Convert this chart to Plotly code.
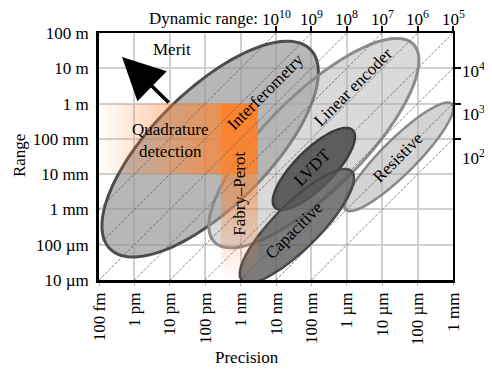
import numpy as np
import plotly.graph_objects as go

# ---------------- data ----------------
PREC_TICK_EXP = list(range(-13, -2))
PREC_TICK_LABELS = ["100 fm", "1 pm", "10 pm", "100 pm", "1 nm", "10 nm",
                    "100 nm", "1 µm", "10 µm", "100 µm", "1 mm"]
RANGE_TICK_EXP = [2, 1, 0, -1, -2, -3, -4, -5]
RANGE_TICK_LABELS = ["100 m", "10 m", "1 m", "100 mm", "10 mm", "1 mm",
                     "100 µm", "10 µm"]
DR_TOP_EXP = [-8, -7, -6, -5, -4, -3]
DR_TOP_LABELS = ["10<sup>10</sup>", "10<sup>9</sup>", "10<sup>8</sup>",
                 "10<sup>7</sup>", "10<sup>6</sup>", "10<sup>5</sup>"]
RIGHT_TICK_EXP = [1, 0, -1]
RIGHT_LABEL_POS = [0.95, -0.27, -1.51]
RIGHT_LABELS = ["10<sup>4</sup>", "10<sup>3</sup>", "10<sup>2</sup>"]
DIAG_EXP = list(range(2, 11))

TECH_NAMES = ["Interferometry", "Linear encoder", "Resistive", "LVDT", "Capacitive"]
TECH_CENTER_U = [-9.86, -6.93, -4.53, -6.93, -7.41]
TECH_CENTER_V = [-1.29, -1.12, -1.51, -1.85, -3.47]
TECH_MAJOR = [4.00, 3.97, 2.12, 1.55, 2.19]
TECH_MINOR = [1.64, 1.36, 0.49, 0.54, 0.64]
TECH_FILL = ["rgba(149,149,149,0.68)", "rgba(180,180,180,0.5)", "rgba(170,170,170,0.5)",
             "rgba(70,70,70,0.85)", "rgba(90,90,90,0.8)"]
TECH_LINE = ["#4d4d4d", "#8c8c8c", "#888888", "#3c3c3c", "#4a4a4a"]
TECH_LINE_W = [3, 3, 2.5, 2.5, 2.5]
LABEL_U = [-8.28, -5.80, -4.55, -6.98, -7.49]
LABEL_V = [0.33, 0.47, -1.54, -1.80, -3.61]

# orange technique regions (log10 of metres)
QUAD_U = [-13.0, -8.5]
QUAD_V = [-2.0, 0.0]
FP_U = [-9.55, -8.5]
FP_V = [-5.0, 0.0]

FONT = "Liberation Serif"
FS = 17
BODY = 8  # default page margin of the browser

fig = go.Figure()

# ---------------- ellipses (shapes between grid and traces) ----------------
shapes = []
t = np.linspace(0, 2 * np.pi, 121)
for cu, cv, a, b, fc, lc, lw in zip(TECH_CENTER_U, TECH_CENTER_V, TECH_MAJOR, TECH_MINOR,
                                     TECH_FILL, TECH_LINE, TECH_LINE_W):
    du = (a * np.cos(t) - b * np.sin(t)) / np.sqrt(2)
    dv = (a * np.cos(t) + b * np.sin(t)) / np.sqrt(2)
    pts = [f"{cu + x:.4f},{cv + y:.4f}" for x, y in zip(du, dv)]
    path = "M " + " L ".join(pts) + " Z"
    shapes.append(dict(type="path", path=path, xref="x", yref="y", layer="between",
                       fillcolor=fc, line=dict(color=lc, width=lw)))

# ---------------- orange gradient regions ----------------
step = 0.05
uc = np.arange(QUAD_U[0] + step / 2, QUAD_U[1], step)
vc = np.arange(FP_V[0] + step / 2, FP_V[1], step)
U, V = np.meshgrid(uc, vc)
in_q = (U >= QUAD_U[0]) & (U <= QUAD_U[1]) & (V >= QUAD_V[0]) & (V <= QUAD_V[1])
in_f = (U >= FP_U[0]) & (U <= FP_U[1]) & (V >= FP_V[0]) & (V <= FP_V[1])
ah = np.where(in_q, 0.7 * np.clip((U - QUAD_U[0]) / (FP_U[0] - QUAD_U[0]), 0, 1), 0.0)
av = np.where(in_f, 0.9 * (V - FP_V[0]) / (FP_V[1] - FP_V[0]), 0.0)
z = 1 - (1 - ah) * (1 - av)
z = np.where(in_q | in_f, z, np.nan)
fig.add_trace(go.Heatmap(x=uc, y=vc, z=z, zmin=0, zmax=1, showscale=False,
                         colorscale=[[0, "rgba(255,127,39,0)"], [1, "rgba(255,127,39,1)"]],
                         hoverinfo="skip"))

# ---------------- constant dynamic-range diagonals ----------------
for k in DIAG_EXP:
    u0 = max(-13, -5 - k)
    u1 = min(-3, 2 - k)
    fig.add_trace(go.Scatter(x=[u0, u1], y=[u0 + k, u1 + k], mode="lines",
                             line=dict(color="#555555", width=0.7, dash="3px,1.5px"),
                             hoverinfo="skip", showlegend=False))

# dummy trace for top / right axes
fig.add_trace(go.Scatter(x=[-13, -3], y=[-5, 2], xaxis="x2", yaxis="y2", mode="markers",
                         marker=dict(opacity=0), hoverinfo="skip", showlegend=False))

# ---------------- annotations ----------------
def txt(**kw):
    d = dict(showarrow=False, xanchor="center", yanchor="middle",
             font=dict(family=FONT, size=FS, color="black"))
    d.update(kw)
    return d

ann = []
for name, lu, lv in zip(TECH_NAMES, LABEL_U, LABEL_V):
    ann.append(txt(x=lu, y=lv, xref="x", yref="y", text=name, textangle=-45))
ann.append(txt(x=-10.99, y=-1.06, xref="x", yref="y", text="Quadrature<br>detection"))
ann.append(txt(x=-9.02, y=-2.56, xref="x", yref="y", text="Fabry–Perot", textangle=-90))
ann.append(txt(x=-10.94, y=1.52, xref="x", yref="y", text="Merit"))
ann.append(dict(x=-12.35, y=1.32, xref="x", yref="y", ax=-10.99, ay=-0.01,
                axref="x", ayref="y", text="", showarrow=True, arrowhead=2,
                arrowsize=2.4, arrowwidth=3.5, arrowcolor="black"))
for pos, lab in zip(RIGHT_LABEL_POS, RIGHT_LABELS):
    ann.append(txt(x=1.0, y=pos, xref="paper", yref="y", text=lab,
                   xanchor="left", xshift=7))
for u, lab in zip(DR_TOP_EXP, DR_TOP_LABELS):
    ann.append(txt(x=u, y=1.007, xref="x", yref="paper", text=lab, yanchor="bottom"))
ann.append(txt(x=-8.45, y=1.057, xref="x", yref="paper", text="Dynamic range:",
               xanchor="right"))
ann.append(txt(x=-8.82, y=-0.312, xref="x", yref="paper", text="Precision"))
ann.append(txt(x=-0.226, y=0.506, xref="paper", yref="paper", text="Range", textangle=-90))

fig.update_layout(
    width=492 - BODY, height=371 - BODY,
    margin=dict(l=99 - BODY, r=39, t=33 - BODY, b=91, pad=0, autoexpand=False),
    paper_bgcolor="white", plot_bgcolor="white",
    showlegend=False,
    shapes=shapes,
    annotations=ann,
    font=dict(family=FONT, size=FS, color="black"),
    xaxis=dict(range=[-13, -3], tickvals=PREC_TICK_EXP, ticktext=PREC_TICK_LABELS,
               tickangle=-90, showgrid=True, gridcolor="#d0d0d0", gridwidth=2,
               zeroline=False, showline=True, linecolor="black", linewidth=2.5,
               ticks="outside", ticklen=3, tickcolor="#bbbbbb", tickwidth=1,
               automargin=False,
               tickfont=dict(family=FONT, size=FS, color="black")),
    yaxis=dict(range=[-5, 2], tickvals=RANGE_TICK_EXP, ticktext=RANGE_TICK_LABELS,
               showgrid=True, gridcolor="#d0d0d0", gridwidth=2,
               zeroline=False, showline=True, linecolor="black", linewidth=2.5,
               ticks="outside", ticklen=4, tickcolor="rgba(0,0,0,0)",
               automargin=False,
               tickfont=dict(family=FONT, size=FS, color="black")),
    xaxis2=dict(range=[-13, -3], overlaying="x", side="top", tickvals=DR_TOP_EXP,
                showticklabels=False, showgrid=False, zeroline=False,
                showline=True, linecolor="black", linewidth=2,
                ticks="outside", ticklen=5, tickwidth=2, tickcolor="black",
                automargin=False),
    yaxis2=dict(range=[-5, 2], overlaying="y", side="right", tickvals=RIGHT_TICK_EXP,
                showticklabels=False, showgrid=False, zeroline=False,
                showline=True, linecolor="black", linewidth=2,
                ticks="outside", ticklen=6, tickwidth=2, tickcolor="black",
                automargin=False),
)

fig.write_html("out.html")
